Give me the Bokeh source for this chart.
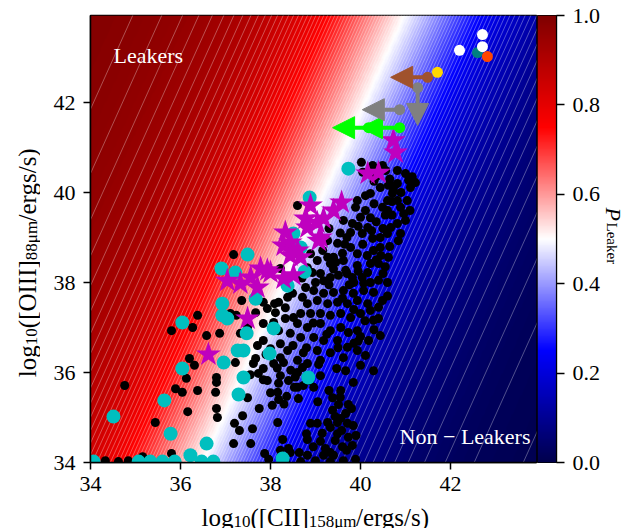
import numpy as np
from bokeh.plotting import figure
from bokeh.layouts import row, column
from bokeh.models import (ColumnDataSource, LinearColorMapper, Label, Arrow, NormalHead,
                          FixedTicker, PrintfTickFormatter, Range1d)
from bokeh.embed import file_html
from bokeh.resources import INLINE

# ---------------- data ----------------
X_TICKS = [34, 36, 38, 40, 42]
Y_TICKS = [34, 36, 38, 40, 42]
CBAR_TICKS = [0.0, 0.2, 0.4, 0.6, 0.8, 1.0]

# probability surface (logistic boundary)
BOUNDARY_X0 = 36.9      # x of P=0.5 at y = BOUNDARY_Y0
BOUNDARY_Y0 = 34.9
BOUNDARY_SLOPE = 0.4506  # dx/dy of the P=0.5 line
BOUNDARY_WIDTH = 1.55
N_LEVELS = 100

BLACK_X = [34.76, 35.8, 36.27, 36.38, 36.58, 36.87, 36.2, 36.31, 36.13, 36.8, 35.89, 36.04, 36.38, 36.78,
           36.8, 36.16, 36.8, 36.82, 35.44, 35.8, 35.16, 37.18, 37.56, 37.2, 37.38, 37.31, 38.04, 38.18,
           37.84, 37.36, 37.24, 37.67, 38.09, 37.93, 37.18, 37.49, 38.18, 38.36, 38.53, 38.73, 38.16, 38.27,
           38.44, 38.64, 37.87, 38.8, 38.89, 39.04, 38.82, 39.11, 39.27, 39.38, 39.44, 39.33, 39.49, 39.44,
           39.58, 39.67, 39.71, 39.73, 39.82, 39.69, 39.51, 39.73, 39.38, 39.84, 39.33, 39.18, 38.82, 39.62,
           38.87, 37.22, 37.62, 37.84, 37.73, 38.29, 38.07, 37.93, 38.22, 38.4, 38.6, 38.71, 38.82, 39.07,
           39.11, 38.96, 38.6, 38.16, 38.62, 39.56, 39.47, 39.67, 40.29, 38.22, 38.4, 39.49, 39.56, 39.84,
           39.22, 39.4, 34.33, 34.62, 34.84, 37.96, 38.33, 38.67, 39.0, 39.33, 39.89, 37.62, 37.84, 38.18,
           38.11, 38.33, 38.33, 38.51, 38.67, 38.71, 38.49, 38.82, 38.93, 39.11, 39.18, 39.33, 39.51, 39.67,
           39.82, 40.04, 40.16, 40.22, 38.96, 39.18, 39.4, 39.62, 39.84, 40.07, 40.29, 38.82, 39.04, 39.27,
           39.49, 39.71, 39.93, 40.16, 38.89, 39.11, 39.33, 39.56, 39.78, 40.0, 40.22, 40.29, 38.6, 38.82,
           39.11, 39.33, 39.56, 39.73, 39.93, 38.44, 38.67, 38.96, 39.18, 39.49, 39.71, 39.93, 38.22, 38.38,
           38.73, 39.04, 39.33, 39.62, 39.11, 38.6, 37.84, 38.07, 38.18, 37.84, 37.71, 38.0, 38.22, 37.67,
           37.33, 37.49, 37.11, 40.02, 40.27, 40.49, 40.56, 40.82, 41.0, 41.07, 41.22, 41.11, 40.22, 39.93,
           39.89, 40.11, 40.22, 40.49, 40.6, 40.71, 40.82, 40.62, 40.44, 40.82, 40.89, 40.96, 41.0, 40.82,
           40.67, 40.6, 40.89, 40.44, 40.27, 40.04, 39.78, 39.82, 39.62, 40.16, 38.6, 39.78, 39.49, 39.27,
           39.16, 39.4, 39.62, 39.93, 40.29, 40.22, 39.93, 39.33, 39.04, 38.89, 40.62, 40.4, 40.07, 41.04,
           40.73, 40.11, 40.84, 40.44, 38.38, 38.78, 39.27, 38.22, 40.49, 40.4, 40.44, 40.18, 40.11, 40.0,
           40.0, 39.85, 40.3, 40.5, 40.6, 40.35, 40.05, 39.7, 39.6, 40.7, 40.35, 40.6, 40.0, 40.3, 39.85,
           39.4, 39.0, 38.7, 39.3, 40.55,
           39.45, 39.7, 39.95, 40.15, 40.45, 40.65, 40.5, 40.25, 39.95, 39.65, 40.1, 39.85, 39.6, 40.4,
           40.6, 39.95, 39.5, 39.25, 38.95, 38.5, 38.8, 39.75, 40.4, 40.7, 40.9, 40.3, 40.05, 40.65, 41.15,
           40.55, 41.1, 39.3, 39.55, 37.9, 38.15, 38.45, 38.55, 37.55, 38.0, 38.3, 37.75, 37.6, 39.55,
           39.8, 39.3, 39.05, 39.6, 39.9, 39.15, 38.95, 40.35, 40.75]
BLACK_Y = [35.71, 36.93, 37.0, 37.27, 36.82, 36.87, 36.31, 36.16, 35.87, 35.89, 35.64, 35.56, 35.6, 35.56,
           35.78, 35.13, 35.2, 35.0, 34.89, 34.2, 34.13, 34.42, 34.42, 34.87, 35.04, 34.71, 35.27, 35.4,
           35.84, 37.6, 37.27, 37.33, 37.53, 37.42, 38.62, 35.44, 35.76, 35.47, 35.67, 35.71, 34.89, 34.51,
           34.22, 34.22, 34.2, 34.64, 34.87, 34.87, 34.51, 34.47, 34.89, 35.16, 35.02, 34.78, 34.64, 34.49,
           34.71, 35.09, 34.87, 34.56, 34.38, 34.27, 35.29, 35.29, 35.44, 35.78, 34.22, 34.16, 34.16, 34.04,
           35.82, 36.22, 36.2, 36.09, 35.98, 36.22, 36.2, 35.82, 35.93, 35.82, 36.0, 36.11, 36.2, 36.18,
           35.93, 35.67, 35.67, 35.56, 35.42, 35.6, 36.09, 36.04, 36.04, 34.27, 34.31, 34.89, 34.98, 34.82,
           34.31, 34.16, 34.04, 34.02, 34.04, 34.07, 34.04, 34.02, 34.04, 34.02, 34.07, 37.64, 37.56, 37.56,
           37.33, 37.44, 37.2, 37.22, 37.31, 37.67, 37.76, 38.33, 38.22, 38.2, 38.04, 38.11, 38.16, 38.27,
           38.11, 38.11, 38.22, 38.0, 37.82, 37.76, 37.78, 37.82, 37.76, 37.82, 37.78, 37.53, 37.6, 37.53,
           37.56, 37.53, 37.6, 37.53, 37.31, 37.31, 37.27, 37.31, 37.22, 37.31, 37.38, 37.16, 37.09, 37.0,
           37.09, 36.93, 37.0, 36.89, 36.93, 36.87, 36.78, 36.78, 36.71, 36.71, 36.56, 36.49, 36.64, 36.49,
           36.44, 36.49, 36.44, 36.33, 36.27, 36.27, 37.09, 37.11, 36.93, 36.71, 36.6, 36.53, 36.33, 36.31,
           36.87, 37.0, 37.31, 40.67, 40.6, 40.6, 40.49, 40.49, 40.42, 40.27, 40.22, 40.11, 39.98, 39.82,
           39.67, 39.6, 39.44, 39.67, 39.82, 39.98, 40.2, 40.16, 40.11, 39.82, 39.67, 39.53, 39.38, 39.31,
           39.22, 39.09, 39.09, 39.0, 38.98, 39.09, 39.11, 39.31, 39.38, 39.22, 39.71, 38.78, 38.87, 38.93,
           38.71, 38.56, 38.49, 38.64, 38.71, 38.42, 38.38, 38.42, 38.49, 38.64, 38.56, 38.42, 37.98, 39.82,
           40.04, 39.93, 38.93, 38.78, 37.67, 37.89, 38.56, 38.31, 37.6, 37.2, 36.82, 36.71, 36.38, 36.16,
           36.8, 36.65, 36.95, 38.2, 38.0, 38.5, 38.85, 39.0, 38.65, 39.5, 39.35, 39.6, 39.45, 39.75, 38.0,
           38.3, 38.0, 38.1, 37.95, 38.35,
           38.45, 38.2, 38.25, 38.6, 38.6, 38.8, 39.2, 39.15, 39.25, 38.85, 37.15, 37.4, 37.65, 37.45,
           37.7, 36.7, 36.55, 36.85, 37.1, 36.6, 36.55, 37.95, 38.05, 39.8, 40.0, 40.25, 40.45, 40.3, 40.35,
           39.5, 39.6, 39.2, 39.1, 36.4, 36.1, 36.05, 35.9, 35.95, 35.55, 35.3, 35.2, 34.75, 35.45,
           35.2, 35.6, 35.35, 34.35, 34.6, 34.65, 34.35, 40.35, 40.15]

CYAN_X = [37.49, 36.91, 37.22, 36.04, 36.93, 36.93, 37.04, 37.47, 38.07, 37.27, 37.4, 36.96, 37.98, 37.67,
          36.04, 37.4, 37.29, 34.51, 35.64, 35.78, 36.58, 38.76, 38.84, 38.27, 39.73, 38.87, 38.38, 38.67,
          38.51, 36.22, 34.07, 35.07, 35.33, 35.6, 35.87, 36.47, 36.73]
CYAN_Y = [38.62, 38.31, 38.22, 37.11, 37.53, 37.27, 37.2, 36.87, 36.98, 36.49, 36.49, 36.22, 36.42, 37.64,
          36.09, 35.89, 35.51, 35.02, 35.38, 34.64, 34.42, 38.24, 35.89, 34.09, 40.53, 39.89, 37.93, 38.78,
          39.09, 34.16, 34.02, 34.02, 34.02, 34.02, 34.02, 34.02, 34.02]

STAR_X = [40.73, 40.78, 40.16, 40.4, 39.58, 38.89, 38.78, 39.18, 39.4, 39.07, 38.82, 38.33, 38.29, 38.44,
          38.6, 38.67, 38.44, 37.78, 38.0, 38.29, 38.51, 37.56, 37.04, 37.33, 37.71, 37.93, 37.49, 36.62,
          39.04, 39.11]
STAR_Y = [41.16, 40.89, 40.42, 40.44, 39.78, 39.71, 39.42, 39.42, 39.6, 38.93, 39.22, 39.11, 38.82, 38.89,
          38.71, 38.56, 38.6, 38.31, 38.22, 38.09, 38.16, 38.11, 38.04, 37.98, 37.89, 38.27, 37.2, 36.4,
          39.33, 39.0]

# upper-limit arrows
GREEN_X, GREEN_Y, GREEN_XLIM = [40.87, 40.18], [41.44, 41.44], [40.0, 39.38]
GRAY_X, GRAY_Y, GRAY_XLIM = [40.87], [41.84], [40.04]
GRAYV_X, GRAYV_Y, GRAYV_YLIM = [41.27], [42.33], [41.49]
BROWN_X, BROWN_Y, BROWN_XLIM = [41.49], [42.56], [40.67]
GOLD_X, GOLD_Y = [41.71], [42.67]
WHITE_X, WHITE_Y = [42.2, 42.71, 42.71], [43.16, 43.51, 43.24]
TEAL_X, TEAL_Y = [42.6], [43.11]
ORANGE_X, ORANGE_Y = [42.82], [43.02]

# ---------------- styling helpers ----------------
FONT = "Liberation Serif"
W_EM = {"l": 0.278, "o": 0.5, "g": 0.5, "(": 0.333, ")": 0.333, "[": 0.333, "]": 0.333,
        "C": 0.667, "I": 0.333, "O": 0.722, "/": 0.278, "e": 0.444, "r": 0.333, "s": 0.389,
        "μ": 0.5, "m": 0.778, "P": 0.611, "L": 0.611, "a": 0.444, "k": 0.5}


def tw(s, size):
    return sum(W_EM.get(ch, 0.5) for ch in s) * size


anchors = np.array([[0, 0, 0.3], [0, 0, 1], [1, 1, 1], [1, 0, 0], [0.5, 0, 0]])
tt = np.linspace(0, 1, 256)
pos = np.linspace(0, 1, 5)
rgb = np.stack([np.interp(tt, pos, anchors[:, i]) for i in range(3)], axis=1)
palette = ["#%02x%02x%02x" % tuple(int(round(v * 255)) for v in c) for c in rgb]
mapper = LinearColorMapper(palette=palette, low=0, high=1)

# page geometry (pixels)
YLAB_W = 40
FL, FR, FT, FB = 90, 536, 15, 462
BOTTOM = 52           # bottom border of the upper row (room for tick labels)
TOP_H = FB + BOTTOM   # height of the upper row
PAGE_W, PAGE_H = 639, 528
XLAB_H = 40
OVERLAP = TOP_H + XLAB_H - PAGE_H
XR = (34.0, 34.0 + (FR - FL) / 45.0)
YR = (34.0, 34.0 + (FB - FT) / 45.0)


def dx(px):
    return XR[0] + (px - FL) * (XR[1] - XR[0]) / (FR - FL)


def dy(py):
    return YR[0] + (FB - py) * (YR[1] - YR[0]) / (FB - FT)


def bx(y):
    return BOUNDARY_X0 + BOUNDARY_SLOPE * (y - BOUNDARY_Y0)


def blank_fig(x0, x1, y0, y1, **kw):
    # label panel; data y = -(page pixel row), so the range increases upward as usual
    f = figure(frame_width=int(x1 - x0), frame_height=int(y1 - y0), x_range=Range1d(x0, x1),
               y_range=Range1d(-y1, -y0), x_axis_location=None, y_axis_location=None,
               min_border_left=0, min_border_right=0, min_border_top=0, min_border_bottom=0,
               toolbar_location=None, output_backend="svg", **kw)
    f.grid.visible = False
    f.outline_line_color = None
    f.background_fill_color = None
    f.border_fill_color = None
    return f


# ---------------- main plot ----------------
p = figure(frame_width=FR - FL, frame_height=FB - FT, x_range=Range1d(*XR), y_range=Range1d(*YR),
           min_border_left=FL - YLAB_W, min_border_right=1, min_border_top=FT,
           min_border_bottom=BOTTOM, toolbar_location=None, output_backend="svg")
p.grid.visible = False
p.outline_line_color = "black"
p.outline_line_width = 1.5

gx = np.linspace(XR[0], XR[1], 400)
gy = np.linspace(YR[0], YR[1], 400)
GX, GY = np.meshgrid(gx, gy)
PROB = 1.0 / (1.0 + np.exp((GX - bx(GY)) / BOUNDARY_WIDTH))
p.image(image=[PROB], x=XR[0], y=YR[0], dw=XR[1] - XR[0], dh=YR[1] - YR[0], color_mapper=mapper)

levels = np.arange(1, N_LEVELS) / N_LEVELS
offs = BOUNDARY_WIDTH * np.log((1 - levels) / levels)
ly = [YR[0] - 1, YR[1] + 1]
p.multi_line([[bx(y) + o for y in ly] for o in offs], [ly] * len(offs),
             line_color="white", line_alpha=0.45, line_width=0.7)

p.scatter(BLACK_X, BLACK_Y, size=9, color="black", line_color=None)
p.scatter(CYAN_X, CYAN_Y, size=14, color="#00BFBF", line_color=None)
p.scatter(STAR_X, STAR_Y, marker="star", size=26, color="#BF00BF", line_color=None)


def add_arrows(xs, ys, xe, ye, color):
    src = ColumnDataSource(dict(x0=xs, y0=ys, x1=xe, y1=ye))
    p.add_layout(Arrow(end=NormalHead(size=22, fill_color=color, line_color=color, line_width=1),
                       x_start="x0", y_start="y0", x_end="x1", y_end="y1", source=src,
                       line_color=color, line_width=4))
    p.scatter(xs, ys, size=11, color=color, line_color=None)


add_arrows(GREEN_X, GREEN_Y, GREEN_XLIM, GREEN_Y, "#00FF00")
add_arrows(GRAY_X, GRAY_Y, GRAY_XLIM, GRAY_Y, "#808080")
add_arrows(GRAYV_X, GRAYV_Y, GRAYV_X, GRAYV_YLIM, "#808080")
add_arrows(BROWN_X, BROWN_Y, BROWN_XLIM, BROWN_Y, "#A0522D")
p.scatter(GOLD_X, GOLD_Y, size=11, color="#FFD700", line_color=None)
p.scatter(TEAL_X, TEAL_Y, size=11, color="#008080", line_color=None)
p.scatter(WHITE_X, WHITE_Y, size=11, color="white", line_color=None)
p.scatter(ORANGE_X, ORANGE_Y, size=11, color="#FF4500", line_color=None)

p.xaxis.ticker = FixedTicker(ticks=X_TICKS)
p.yaxis.ticker = FixedTicker(ticks=Y_TICKS)
for ax in (p.xaxis, p.yaxis):
    ax.minor_tick_line_color = None
    ax.major_tick_out = 7
    ax.major_tick_in = 0
    ax.major_tick_line_width = 1.5
    ax.axis_line_width = 1.5
    ax.major_label_text_font = FONT
    ax.major_label_text_font_size = "22px"
    ax.major_label_text_color = "black"
p.xaxis.major_label_standoff = 7
p.yaxis.major_label_standoff = 8

p.add_layout(Label(x=dx(113), y=dy(55), text="Leakers", text_color="white", text_font=FONT,
                   text_font_size="22px", text_align="left", text_baseline="alphabetic"))
p.add_layout(Label(x=dx(530), y=dy(436), text="Non − Leakers", text_color="white", text_font=FONT,
                   text_font_size="22px", text_align="right", text_baseline="alphabetic"))

# ---------------- axis-title figures ----------------
MAIN, SUB, SUB_SHIFT = 25, 17, 4
XLAB = [("log", 0), ("10", 1), ("([CII]", 0), ("158μm", 1), ("/ergs/s)", 0)]
YLAB = [("log", 0), ("10", 1), ("([OIII]", 0), ("88μm", 1), ("/ergs/s)", 0)]
XLAB_BASE = 517

fx = blank_fig(0, PAGE_W, PAGE_H - XLAB_H, PAGE_H, margin=(-OVERLAP, 0, 0, 0))
total = sum(tw(t, SUB if s else MAIN) for t, s in XLAB)
cur = 315 - total / 2
for t, s in XLAB:
    size = SUB if s else MAIN
    fx.add_layout(Label(x=cur, y=-(XLAB_BASE + (SUB_SHIFT if s else 0)), text=t, text_font=FONT,
                        text_font_size=f"{size}px", text_align="left", text_baseline="alphabetic",
                        text_color="black"))
    cur += tw(t, size)

fy = blank_fig(0, YLAB_W, 0, TOP_H)
total = sum(tw(t, SUB if s else MAIN) for t, s in YLAB)
cur = 247 + total / 2
for t, s in YLAB:
    size = SUB if s else MAIN
    fy.add_layout(Label(x=27 + (SUB_SHIFT if s else 0), y=-cur, text=t, angle=np.pi / 2,
                        text_font=FONT, text_font_size=f"{size}px", text_align="left",
                        text_baseline="alphabetic", text_color="black"))
    cur -= tw(t, size)

# ---------------- colour bar ----------------
CL, CR = 537, 556
CB_RIGHT = 42
p2 = figure(frame_width=CR - CL, frame_height=FB - FT, x_range=Range1d(0, 1), y_range=Range1d(0, 1),
            x_axis_location=None, y_axis_location="right",
            min_border_left=0, min_border_right=CB_RIGHT, min_border_top=FT,
            min_border_bottom=BOTTOM, toolbar_location=None, output_backend="svg")
p2.grid.visible = False
p2.outline_line_color = "black"
p2.outline_line_width = 1.2
grad = np.linspace(0, 1, 256).reshape(256, 1)
p2.image(image=[grad], x=0, y=0, dw=1, dh=1, color_mapper=mapper)
p2.yaxis.ticker = FixedTicker(ticks=CBAR_TICKS)
p2.yaxis.formatter = PrintfTickFormatter(format="%.1f")
p2.yaxis.minor_tick_line_color = None
p2.yaxis.major_tick_out = 8
p2.yaxis.major_tick_in = 0
p2.yaxis.major_tick_line_width = 1.5
p2.yaxis.axis_line_width = 1.2
p2.yaxis.major_label_text_font = FONT
p2.yaxis.major_label_text_font_size = "22px"
p2.yaxis.major_label_text_color = "black"
p2.yaxis.major_label_standoff = 8

PL0 = CR + CB_RIGHT
fp = blank_fig(PL0, PAGE_W - 2, 0, TOP_H)
fp.add_layout(Label(x=608, y=-192, text="P", angle=-np.pi / 2, text_font=FONT,
                    text_font_style="italic", text_font_size="22px", text_align="left",
                    text_baseline="alphabetic", text_color="black"))
fp.add_layout(Label(x=606, y=-207, text="Leaker", angle=-np.pi / 2, text_font=FONT,
                    text_font_size="15px", text_align="left", text_baseline="alphabetic",
                    text_color="black"))

layout = column(row(fy, p, p2, fp), fx)
open("out.html", "w").write(file_html(layout, INLINE))
